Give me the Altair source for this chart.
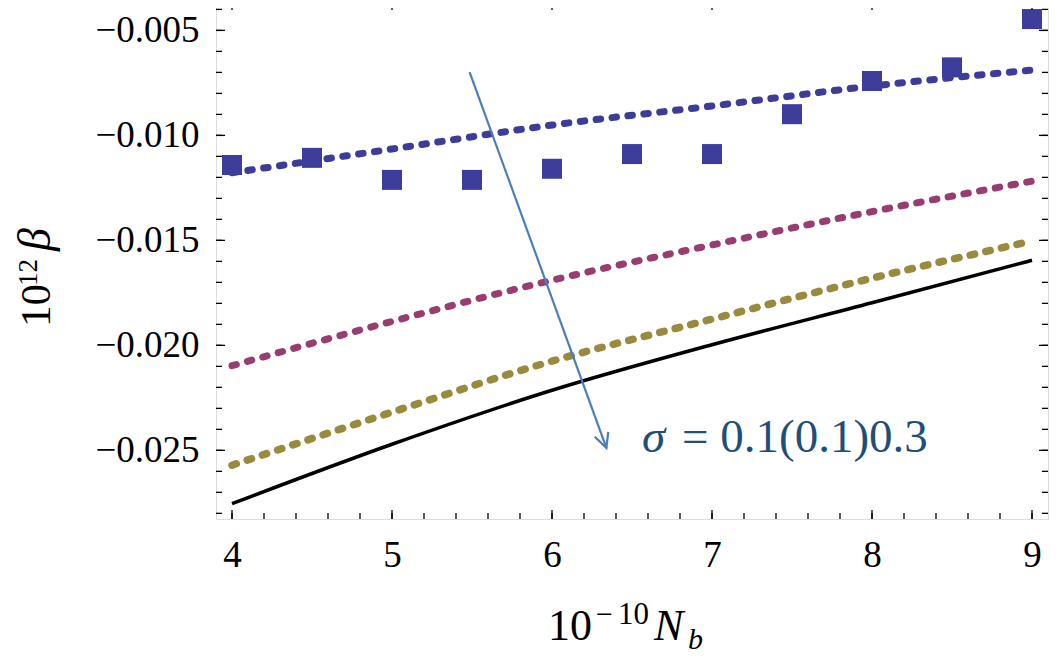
import altair as alt
import pandas as pd

# ---------------- data ----------------
x_curve = [4, 5, 6, 7, 8, 9]
curve_blue = [-0.01178, -0.01065, -0.00951, -0.00860, -0.00765, -0.00689]
curve_magenta = [-0.02097, -0.01886, -0.01690, -0.01522, -0.01363, -0.01218]
curve_olive = [-0.02571, -0.02318, -0.02075, -0.01875, -0.01680, -0.01503]
curve_black = [-0.02754, -0.02471, -0.02214, -0.01997, -0.01797, -0.01595]

x_sq = [4, 4.5, 5, 5.5, 6, 6.5, 7, 7.5, 8, 8.5, 9]
y_sq = [-0.01141, -0.01107, -0.01212, -0.01212, -0.01159, -0.01089,
        -0.01089, -0.00899, -0.00741, -0.00676, -0.00446]

x_major = [4, 5, 6, 7, 8, 9]
x_minor = [round(4 + 0.2 * i, 1) for i in range(26)]
y_major = [-0.025, -0.020, -0.015, -0.010, -0.005]
y_minor = [round(-0.028 + 0.001 * i, 3) for i in range(25)]

arrow_x = [5.485, 6.340]
arrow_y = [-0.00699, -0.02488]

X_DOM = [3.9, 9.1]
Y_DOM = [-0.02827, -0.0036]
W, H = 832, 518
FONT = "Liberation Serif"

xs = alt.Scale(domain=X_DOM, nice=False, zero=False)
ys = alt.Scale(domain=Y_DOM, nice=False, zero=False)

x_axis = alt.Axis(values=x_major, format="d", title=None, grid=False, ticks=False,
                  domain=False, labelFont=FONT, labelFontSize=37, labelColor="black",
                  labelPadding=18)
y_axis = alt.Axis(values=y_major, format=".3f", title=None, grid=False, ticks=False,
                  domain=False, labelFont=FONT, labelFontSize=37, labelColor="black",
                  labelPadding=17)


def curve(vals, color, dotted=True, width=7):
    df = pd.DataFrame({"x": x_curve, "y": vals})
    kw = dict(color=color, strokeWidth=width, interpolate="monotone")
    if dotted:
        kw.update(strokeDash=[4.5, 11.5], strokeCap="round")
    return alt.Chart(df).mark_line(**kw).encode(
        x=alt.X("x:Q", scale=xs, axis=x_axis),
        y=alt.Y("y:Q", scale=ys, axis=y_axis),
    )


layers = []
layers.append(curve(curve_blue, "#3D3D99"))
layers.append(curve(curve_magenta, "#993D71"))
layers.append(curve(curve_olive, "#998B3D", width=7.5))
layers.append(curve(curve_black, "black", dotted=False, width=3.5))

sq = alt.Chart(pd.DataFrame({"x": x_sq, "y": y_sq})).mark_point(
    shape="square", filled=True, size=400, color="#3D3D9C", opacity=1
).encode(x=alt.X("x:Q", scale=xs), y=alt.Y("y:Q", scale=ys))
layers.append(sq)

# arrow
adf = pd.DataFrame({"x": [arrow_x[0]], "y": [arrow_y[0]], "x2": [arrow_x[1]], "y2": [arrow_y[1]]})
layers.append(alt.Chart(adf).mark_rule(color="#4A7EBB", strokeWidth=2.2).encode(
    x=alt.X("x:Q", scale=xs), y=alt.Y("y:Q", scale=ys), x2="x2:Q", y2="y2:Q"))
hdf = pd.DataFrame({"x": [arrow_x[1]], "y": [arrow_y[1]]})
layers.append(alt.Chart(hdf).mark_point(
    shape="M-0.45,-0.9L0,0L0.45,-0.9", filled=False, size=1024, angle=340,
    stroke="#4A7EBB", strokeWidth=2.2, opacity=1
).encode(x=alt.X("x:Q", scale=xs), y=alt.Y("y:Q", scale=ys)))


# inward frame ticks
def yticks(vals, length):
    df = pd.DataFrame({"v": vals})
    left = alt.Chart(df).mark_rule(color="black", strokeWidth=1.3).encode(
        y=alt.Y("v:Q", scale=ys), x=alt.value(0), x2=alt.value(length))
    right = alt.Chart(df).mark_rule(color="black", strokeWidth=1.3).encode(
        y=alt.Y("v:Q", scale=ys), x=alt.value(W - length), x2=alt.value(W))
    return [left, right]


def xticks(vals, length):
    df = pd.DataFrame({"v": vals})
    bottom = alt.Chart(df).mark_rule(color="black", strokeWidth=1.3).encode(
        x=alt.X("v:Q", scale=xs), y=alt.value(H - length), y2=alt.value(H))
    top = alt.Chart(df).mark_rule(color="black", strokeWidth=1.3).encode(
        x=alt.X("v:Q", scale=xs), y=alt.value(0), y2=alt.value(length))
    return [bottom, top]


layers += yticks(y_minor, 6) + yticks(y_major, 9) + xticks(x_minor, 6) + xticks(x_major, 9)

one = pd.DataFrame({"a": [0]})


def label(text, x, y, size, angle=0, italic=False, color="black"):
    kw = dict(text=text, font=FONT, fontSize=size, align="left", baseline="alphabetic",
              color=color)
    if angle:
        kw["angle"] = angle
    if italic:
        kw["fontStyle"] = "italic"
    return alt.Chart(one).mark_text(**kw).encode(x=alt.value(x), y=alt.value(y))


# y title 10^12 beta (rotated)
layers.append(label("10", -166, 326, 43, angle=270))
layers.append(label("12", -179, 285, 27, angle=270))
layers.append(label("β", -166, 250, 46, angle=270, italic=True))
# x title 10^-10 N_b
layers.append(label("10", 332, 639, 44))
layers.append(label("−", 380, 623, 30))
layers.append(label("10", 402, 623, 31))
layers.append(label("N", 438, 639, 44, italic=True))
layers.append(label("b", 472, 648, 30, italic=True))
# annotation
layers.append(label("σ", 426, 451, 47, italic=True, color="#1F4E79"))
layers.append(label("= 0.1(0.1)0.3", 466, 451, 47, color="#1F4E79"))

chart = alt.layer(*layers).properties(
    width=W, height=H,
    autosize=alt.AutoSizeParams(type="none"),
    padding={"left": 208, "top": -7, "right": 7, "bottom": 144},
).configure_view(stroke="black", strokeWidth=1.4).configure(background="white")

chart.save("out.html", embed_options={"renderer": "svg", "actions": False})
